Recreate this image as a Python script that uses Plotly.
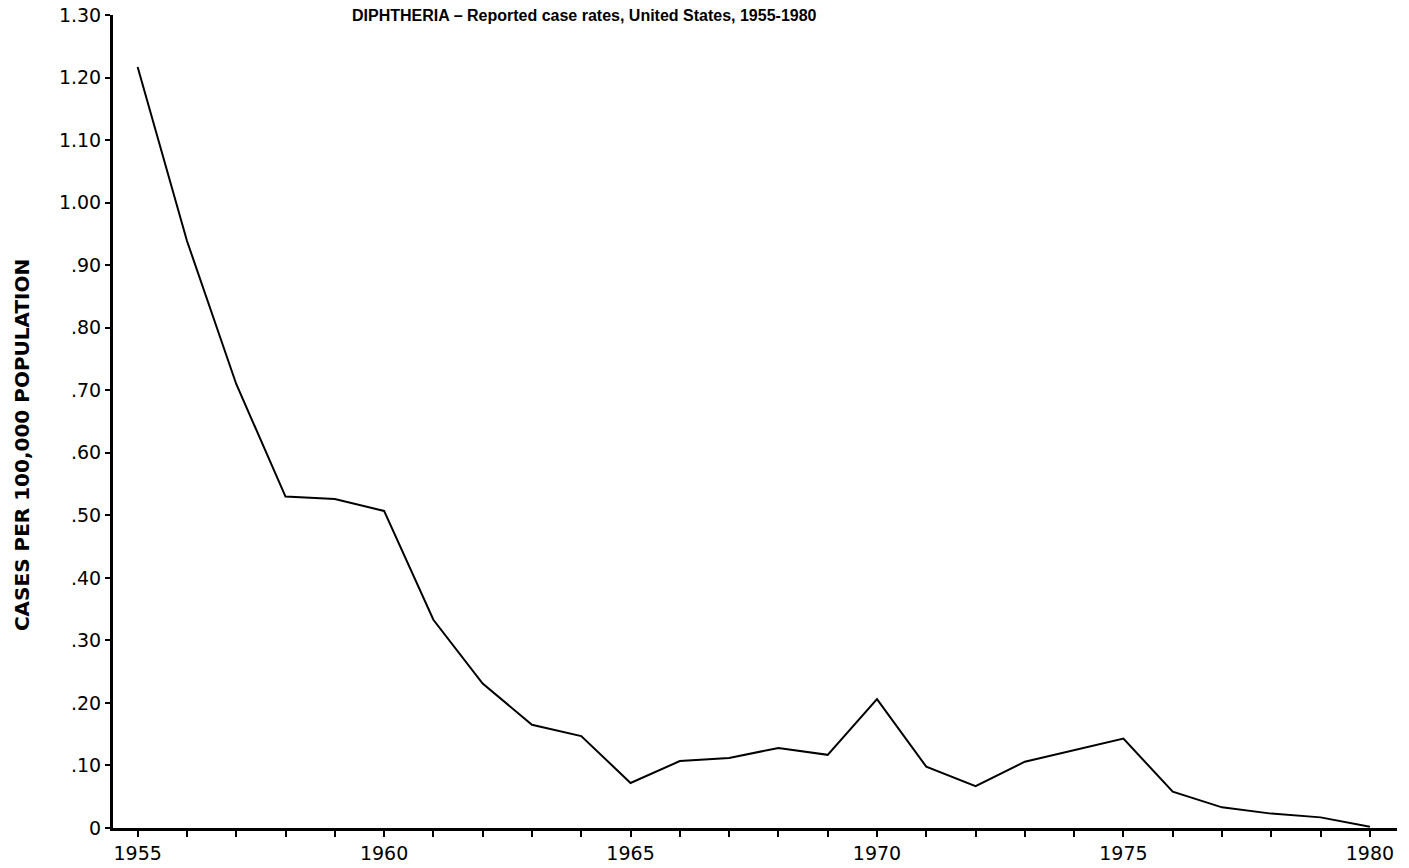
import plotly.graph_objects as go

years = list(range(1955, 1981))
rates = [1.217, 0.939, 0.71, 0.530, 0.526, 0.507, 0.333, 0.231, 0.165, 0.147,
         0.072, 0.107, 0.112, 0.128, 0.117, 0.206, 0.098, 0.067, 0.106, 0.125,
         0.143, 0.058, 0.033, 0.023, 0.017, 0.002]

y_tickvals = [0, 0.1, 0.2, 0.3, 0.4, 0.5, 0.6, 0.7, 0.8, 0.9, 1.0, 1.1, 1.2, 1.3]
y_ticktext = ["0", ".10", ".20", ".30", ".40", ".50", ".60", ".70", ".80", ".90",
              "1.00", "1.10", "1.20", "1.30"]
x_tickvals = list(range(1955, 1981))
x_ticktext = [str(y) if y % 5 == 0 else "" for y in x_tickvals]

title_text = "DIPHTHERIA \u2013 Reported case rates, United States, 1955-1980"
ytitle_text = "CASES PER 100,000 POPULATION"

fig = go.Figure()
fig.add_trace(go.Scatter(x=years, y=rates, mode="lines",
                         line=dict(color="black", width=2), showlegend=False))

font_tick = "DejaVu Sans, Verdana, sans-serif"

fig.update_layout(
    width=1409, height=868,
    margin=dict(l=113, r=12, t=15, b=40, autoexpand=False),
    paper_bgcolor="white", plot_bgcolor="white",
    xaxis=dict(range=[1954.5, 1980.55], tickvals=x_tickvals, ticktext=x_ticktext,
               automargin=False, ticklabeloverflow="allow",
               showgrid=False, zeroline=False, showline=True, linecolor="black",
               linewidth=3, ticks="outside", ticklen=6, tickwidth=2, tickcolor="black",
               tickfont=dict(family=font_tick, size=19, color="black")),
    yaxis=dict(range=[0, 1.3], tickvals=y_tickvals, ticktext=y_ticktext,
               automargin=False, ticklabeloverflow="allow",
               showgrid=False, zeroline=False, showline=True, linecolor="black",
               linewidth=3, ticks="outside", ticklen=5, tickwidth=2, tickcolor="black",
               tickfont=dict(family=font_tick, size=19, color="black")),
    annotations=[
        dict(text="<b>" + title_text + "</b>", xref="paper", yref="paper",
             x=0.367, y=1, xanchor="center", yanchor="middle", showarrow=False,
             font=dict(family="Liberation Sans Narrow, Arial Narrow, Liberation Sans, sans-serif",
                       size=16, color="black")),
        dict(text="<b>" + ytitle_text + "</b>", xref="paper", yref="paper",
             x=0, y=0.471, xshift=-91, xanchor="center", yanchor="middle",
             textangle=-90, showarrow=False,
             font=dict(family=font_tick, size=20, color="black")),
    ],
)

fig.write_html("out.html",
               config={"displayModeBar": False},
               post_script="document.body.style.margin='0';document.body.style.overflow='hidden';")
